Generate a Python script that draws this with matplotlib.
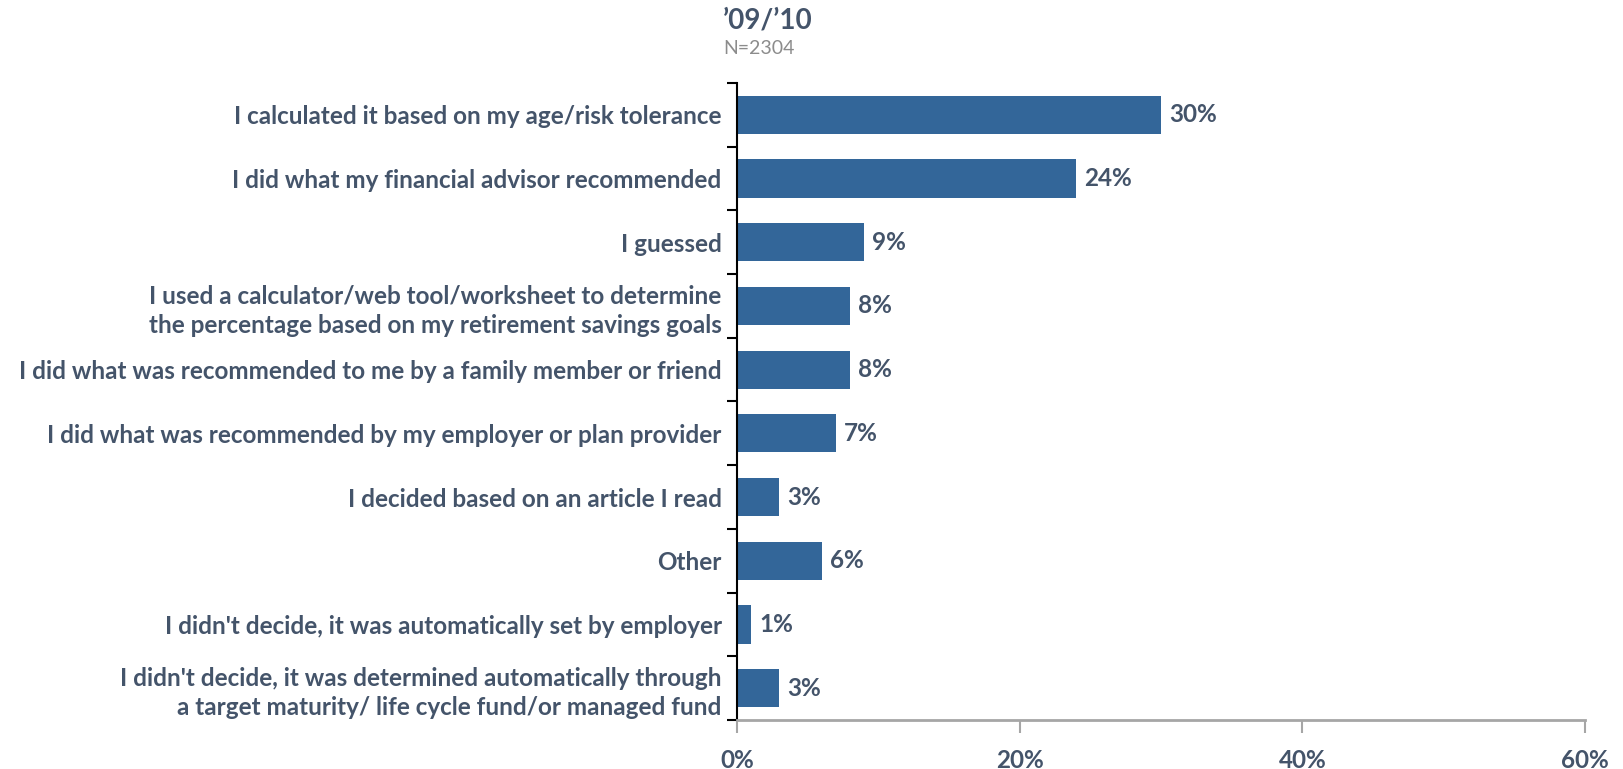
import matplotlib.pyplot as plt
import matplotlib.font_manager as fm

# data
categories = [
    "I calculated it based on my age/risk tolerance",
    "I did what my financial advisor recommended",
    "I guessed",
    "I used a calculator/web tool/worksheet to determine\nthe percentage based on my retirement savings goals",
    "I did what was recommended to me by a family member or friend",
    "I did what was recommended by my employer or plan provider",
    "I decided based on an article I read",
    "Other",
    "I didn't decide, it was automatically set by employer",
    "I didn't decide, it was determined automatically through\na target maturity/ life cycle fund/or managed fund",
]
values = [30, 24, 9, 8, 8, 7, 3, 6, 1, 3]
xticks = [0, 20, 40, 60]
title = "\u201909/\u201910"
subtitle = "N=2304"

names = {f.name for f in fm.fontManager.ttflist}
fam = "Liberation Sans Narrow" if "Liberation Sans Narrow" in names else "Lato"
plt.rcParams['font.family'] = [fam, 'DejaVu Sans']

txt = '#44546A'
bar_col = '#336699'
fs = 17.5

fig = plt.figure(figsize=(16.24, 7.69), dpi=100)
ax = fig.add_axes([737/1624, 1 - 720/769, (1585 - 737)/1624, (720 - 83)/769])

y = list(range(len(categories)))
ax.barh(y, values, height=0.6, color=bar_col)
for yi, v in zip(y, values):
    ax.text(v + 0.55, yi, f"{v}%", va='center', ha='left', fontsize=fs,
            fontweight='bold', color=txt)

ax.set_xlim(0, 60)
ax.set_ylim(len(categories) - 0.5, -0.5)

# category labels
ax.set_yticks(y)
ax.set_yticklabels(categories, fontsize=fs, fontweight='bold', color=txt,
                   linespacing=1.3)
ax.tick_params(axis='y', which='major', length=0, pad=11)
ax.set_yticks([i - 0.5 for i in range(len(categories) + 1)], minor=True)
ax.tick_params(axis='y', which='minor', length=7, width=1.5, color='black',
               direction='out')

ax.set_xticks(xticks)
ax.set_xticklabels([f"{t}%" for t in xticks], fontsize=fs, fontweight='bold',
                   color=txt)
ax.tick_params(axis='x', length=9, width=1.5, color='#a6a6a6', pad=12)

for s in ['top', 'right']:
    ax.spines[s].set_visible(False)
ax.spines['left'].set_color('black')
ax.spines['left'].set_linewidth(1.5)
ax.spines['bottom'].set_color('#a6a6a6')
ax.spines['bottom'].set_linewidth(2)

fig.text(723/1624, 1 - 20/769, title, ha='left', va='center', fontsize=20,
         fontweight='bold', color=txt)
fig.text(723/1624, 1 - 48/769, subtitle, ha='left', va='center', fontsize=14,
         color='#8c8c8c')

fig.savefig('out.png', dpi=100)
